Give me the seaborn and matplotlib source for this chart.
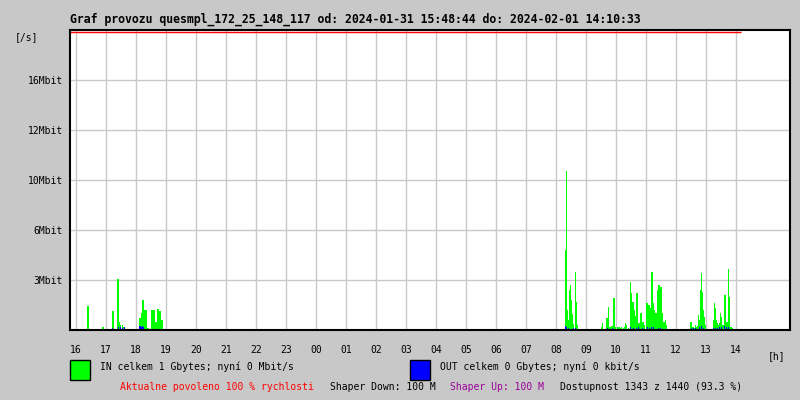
import numpy as np
import pandas as pd
import seaborn as sns
import matplotlib.pyplot as plt
from matplotlib.patches import Rectangle

# samples every 2 minutes, values in Mbit/s
in_times = ['16:22', '16:24', '16:52', '16:54', '17:12', '17:14', '17:22', '17:24', '17:26', '17:28',
            '17:32', '17:34', '17:36',
            '18:06', '18:08', '18:10', '18:12', '18:14', '18:16', '18:18', '18:20', '18:22', '18:24',
            '18:30', '18:32', '18:34', '18:36', '18:38', '18:40', '18:42', '18:44', '18:46', '18:48',
            '18:50', '18:52',
            '08:18', '08:20', '08:22', '08:24', '08:26', '08:28', '08:30', '08:32', '08:34', '08:38',
            '08:40', '08:42',
            '09:30', '09:32', '09:40', '09:42', '09:44', '09:46', '09:48', '09:50', '09:52', '09:54',
            '09:56', '09:58', '10:02', '10:04', '10:06', '10:08', '10:10', '10:14', '10:16', '10:18',
            '10:20', '10:24', '10:28', '10:30', '10:32', '10:34', '10:36', '10:38', '10:40', '10:42',
            '10:44', '10:46', '10:48', '10:50', '10:52', '10:54', '10:56', '11:00', '11:02', '11:04',
            '11:06', '11:08', '11:10', '11:12', '11:14', '11:16', '11:18', '11:20', '11:22', '11:24',
            '11:26', '11:28', '11:30', '11:32', '11:34', '11:36', '11:38', '11:40',
            '12:28', '12:30', '12:32', '12:34', '12:36', '12:38', '12:40', '12:42', '12:44', '12:46',
            '12:48', '12:50', '12:52', '12:54', '12:56', '12:58', '13:14', '13:16', '13:18', '13:20',
            '13:22', '13:24', '13:26', '13:28', '13:30', '13:32', '13:34', '13:36', '13:38', '13:40',
            '13:42', '13:44', '13:46', '13:48', '13:50', '13:52']
in_mbit = [1.54, 1.54, 0.19, 0.19, 1.22, 1.22, 3.26, 3.26, 0.51, 0.30,
           0.32, 0.20, 0.15,
           0.77, 0.77, 1.09, 1.92, 1.92, 1.28, 1.28, 1.28, 0.13, 0.13,
           1.28, 1.28, 1.28, 1.28, 0.51, 0.51, 1.34, 1.34, 1.22, 1.22,
           0.64, 0.64,
           5.12, 10.18, 1.28, 0.64, 2.56, 2.88, 1.92, 1.02, 0.40, 3.71,
           1.79, 0.30,
           0.19, 0.45, 0.77, 0.77, 1.47, 0.19, 0.19, 0.26, 0.26, 2.05,
           2.05, 0.19, 0.19, 0.19, 0.19, 0.13, 0.19, 0.13, 0.19, 0.45,
           0.32, 0.13, 3.07, 2.37, 1.79, 1.79, 1.28, 0.90, 2.37, 2.37,
           0.45, 0.45, 1.09, 1.09, 0.51, 0.51, 0.30, 1.73, 1.73, 1.60,
           1.60, 1.41, 3.71, 3.71, 1.73, 1.28, 1.09, 1.09, 2.56, 2.88,
           2.88, 2.75, 2.75, 1.09, 0.51, 0.51, 0.64, 0.32,
           0.51, 0.51, 0.19, 0.19, 0.13, 0.32, 0.19, 0.26, 0.96, 0.64,
           2.56, 3.65, 2.43, 1.28, 0.83, 0.32, 0.64, 1.73, 1.41, 0.64,
           0.45, 0.32, 0.45, 1.09, 0.83, 0.32, 0.32, 2.24, 2.24, 0.51,
           0.51, 3.90, 2.11, 0.19, 0.19, 0.13]

out_times = ['17:12', '17:24', '17:28', '17:32', '17:36', '18:06', '18:08', '18:10', '18:12', '18:14',
             '08:18', '08:20', '08:24', '08:34', '08:38', '09:32', '09:42', '09:52', '10:06', '10:28',
             '10:34', '10:40', '10:44', '10:52', '11:02', '11:06', '11:10', '11:14', '11:24', '11:28',
             '12:30', '12:34', '12:38', '12:46', '12:50', '12:54', '13:14', '13:18', '13:22', '13:26',
             '13:30', '13:36', '13:40', '13:44']
out_mbit = [0.13, 0.19, 0.19, 0.13, 0.19, 0.26, 0.26, 0.19, 0.26, 0.19,
            0.26, 0.19, 0.13, 0.13, 0.13, 0.06, 0.10, 0.10, 0.06, 0.19,
            0.13, 0.13, 0.19, 0.13, 0.19, 0.13, 0.19, 0.19, 0.13, 0.13,
            0.13, 0.13, 0.13, 0.19, 0.26, 0.13, 0.13, 0.13, 0.13, 0.19,
            0.19, 0.26, 0.19, 0.19]

start_time = '15:48'
end_time = '14:10'
hour_labels = ['16', '17', '18', '19', '20', '21', '22', '23', '00', '01', '02', '03',
               '04', '05', '06', '07', '08', '09', '10', '11', '12', '13', '14']
y_ticks_mbit = [3.2, 6.4, 9.6, 12.8, 16.0]
y_tick_labels = ['3Mbit', '6Mbit', '10Mbit', '12Mbit', '16Mbit']
y_top = 19.2


def minutes_from_start(t):
    h, m = map(int, t.split(':'))
    sh, sm = map(int, start_time.split(':'))
    return (h * 60 + m - (sh * 60 + sm)) % 1440


df_in = pd.DataFrame({'minute': [minutes_from_start(t) for t in in_times], 'mbit': in_mbit})
df_out = pd.DataFrame({'minute': [minutes_from_start(t) for t in out_times], 'mbit': out_mbit})
end_minute = minutes_from_start(end_time)

sns.set_style('white')
plt.rcParams['font.family'] = ['DejaVu Sans Mono']
plt.rcParams['text.color'] = 'black'
plt.rcParams['xtick.color'] = 'black'
plt.rcParams['ytick.color'] = 'black'
bg = '#c8c8c8'

fig = plt.figure(figsize=(8, 4), dpi=100, facecolor=bg)
ax = fig.add_axes([70 / 800, 70 / 400, 720 / 800, 300 / 400])

# IN and OUT traffic as weighted histograms, one bin per 2 minutes
sns.histplot(data=df_in, x='minute', weights='mbit', binwidth=2, binrange=(0, end_minute),
             color='#00ff00', alpha=1, linewidth=0, antialiased=False, ax=ax)
sns.histplot(data=df_out, x='minute', weights='mbit', binwidth=2, binrange=(0, end_minute),
             color='#0000ff', alpha=1, linewidth=0, antialiased=False, ax=ax)

# shaper limit line just under the top border
ax.hlines(y_top * (1 - 1.5 / 300), 0, end_minute, color='red', lw=1, zorder=2)

ax.set_xlim(0, 1440)
ax.set_ylim(0, y_top)
hour_pos = [minutes_from_start(h + ':00') for h in hour_labels]
ax.set_xticks(hour_pos)
ax.set_xticklabels(hour_labels, fontsize=7)
ax.set_yticks(y_ticks_mbit)
ax.set_yticklabels(y_tick_labels, fontsize=7)
ax.tick_params(length=0)
ax.tick_params(axis='x', pad=11)
ax.tick_params(axis='y', pad=5)
ax.set_xlabel('')
ax.set_ylabel('')
ax.set_facecolor('white')
ax.grid(True, color='#c8c8c8', lw=1)
ax.set_axisbelow(True)
for s in ax.spines.values():
    s.set_color('black')
    s.set_linewidth(1.5)
    s.set_zorder(3)

# titles and units
fig.text(70 / 800, 1 - 19 / 400,
         'Graf provozu quesmpl_172_25_148_117 od: 2024-01-31 15:48:44 do: 2024-02-01 14:10:33',
         fontsize=8.3, fontweight='bold', va='center', ha='left')
fig.text(15 / 800, 1 - 37 / 400, '[/s]', fontsize=7, va='center')
fig.text(768 / 800, 1 - 356 / 400, '[h]', fontsize=7, va='center')

# legend boxes
fig.add_artist(Rectangle((70 / 800, 1 - 380 / 400), 20 / 800, 20 / 400, transform=fig.transFigure,
                         facecolor='#00ff00', edgecolor='black', lw=1))
fig.add_artist(Rectangle((410 / 800, 1 - 380 / 400), 20 / 800, 20 / 400, transform=fig.transFigure,
                         facecolor='#0000ff', edgecolor='black', lw=1))
fig.text(100 / 800, 1 - 367 / 400, 'IN celkem 1 Gbytes; nyní 0 Mbit/s', fontsize=7, va='center')
fig.text(440 / 800, 1 - 367 / 400, 'OUT celkem 0 Gbytes; nyní 0 kbit/s', fontsize=7, va='center')

# status line
fig.text(120 / 800, 1 - 387 / 400, 'Aktualne povoleno 100 % rychlosti', fontsize=7, va='center', color='red')
fig.text(330 / 800, 1 - 387 / 400, 'Shaper Down: 100 M', fontsize=7, va='center', color='black')
fig.text(450 / 800, 1 - 387 / 400, 'Shaper Up: 100 M', fontsize=7, va='center', color='#990099')
fig.text(560 / 800, 1 - 387 / 400, 'Dostupnost 1343 z 1440 (93.3 %)', fontsize=7, va='center', color='black')

fig.savefig('out.png', dpi=100, facecolor=bg)
